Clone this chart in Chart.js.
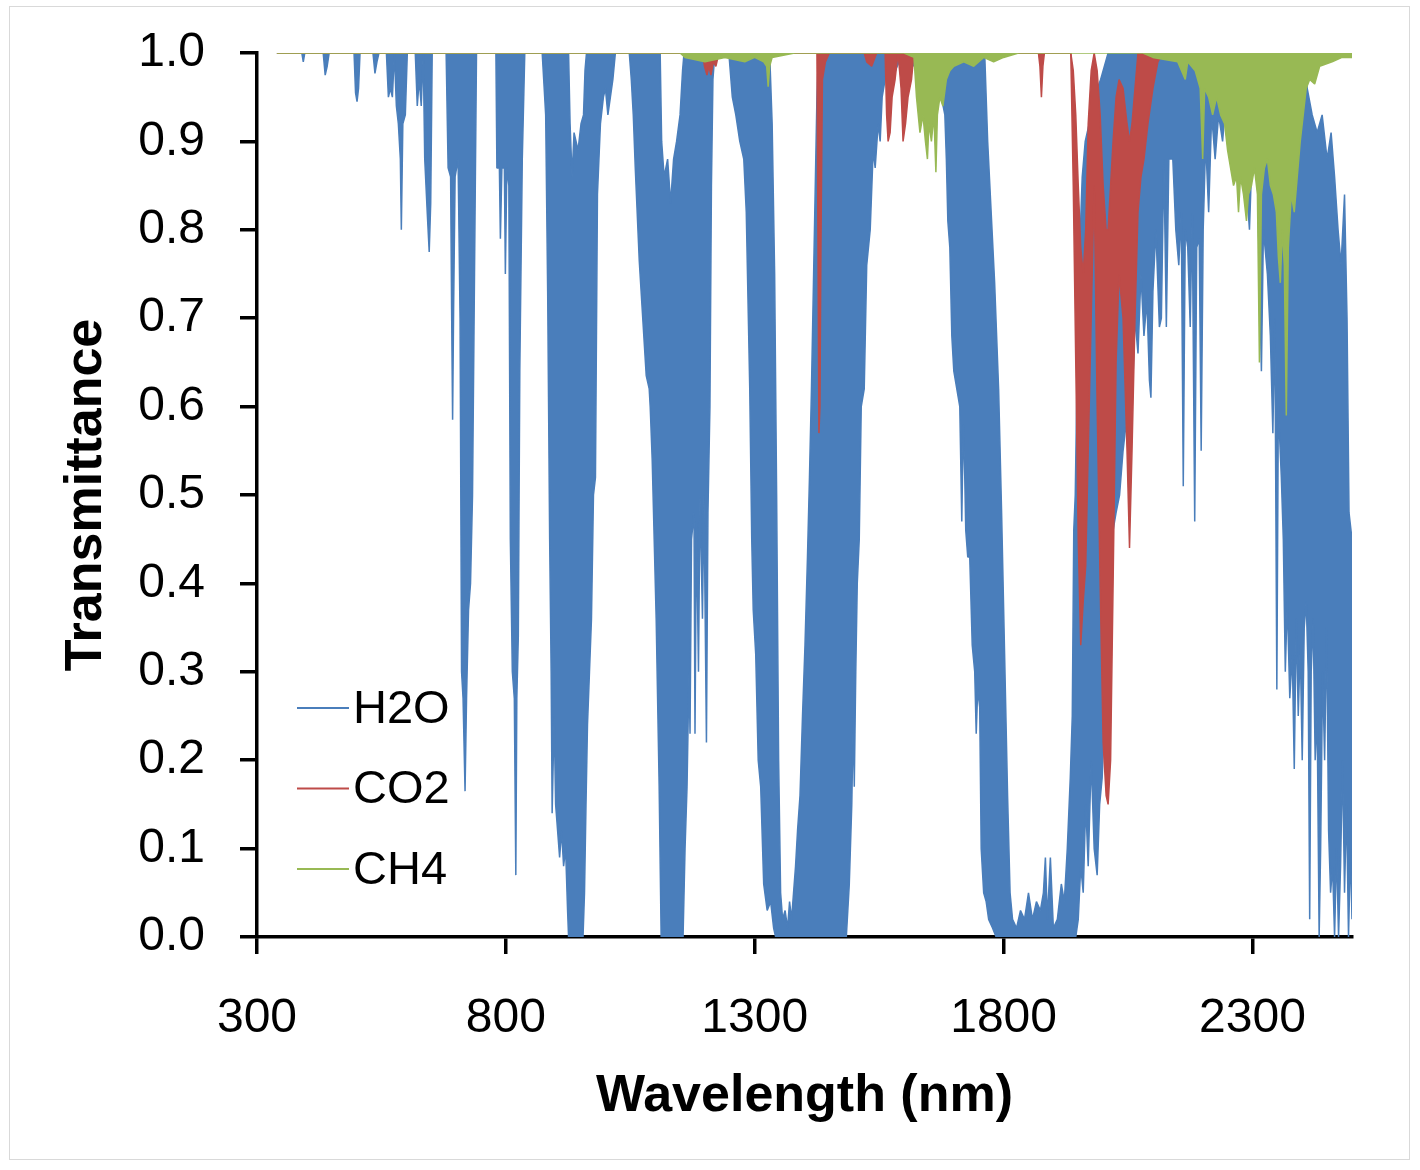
<!DOCTYPE html>
<html lang="en">
<head>
  <meta charset="UTF-8">
  <title>Transmittance of H2O, CO2 and CH4</title>
  <script src="https://cdn.jsdelivr.net/npm/chart.js"></script>
  <style>
    html, body { margin: 0; padding: 0; background: #fff; }
    #wrap { position: relative; width: 1420px; height: 1170px; }
    #frame { position: absolute; left: 9px; top: 6px; width: 1401px; height: 1154px;
             border: 1px solid #d9d9d9; box-sizing: border-box; pointer-events: none; }
    #chart { position: absolute; left: 0; top: 0; }
  </style>
</head>
<body>
  <div id="wrap">
    <canvas id="chart" width="1420" height="1170"></canvas>
    <div id="frame"></div>
  </div>

  <script>
    // wavelength (nm), transmittance pairs
    // H2O is drawn as a band between its upper and lower envelope
    const h2oLower = [
      [340,1],[390,1],[393,0.99],[396,1],[433,1],[437,0.975],[441,0.985],[445,1],
      [495,1],[498,0.955],[501,0.945],[504,0.96],[507,1],[533,1],[537,0.977],[541,0.99],[545,1],
      [560,1],[564,0.95],[568,0.96],[572,0.95],[576,1],[580,0.94],[584,0.92],[588,0.88],[590,0.80],
      [593,0.92],[598,0.93],[602,1],[618,1],[622,0.94],[626,0.97],[630,0.94],[634,1],[637,0.88],
      [642,0.82],[646,0.775],[649,0.83],[652,1],[680,1],[684,0.87],[689,0.86],[691,0.71],[693,0.585],
      [695,0.71],[698,0.86],[704,0.88],[708,0.70],[711,0.30],[714,0.27],[718,0.165],[721,0.27],
      [725,0.37],[729,0.40],[733,0.50],[737,0.75],[741,1],[780,1],[782,0.87],[787,0.87],[789,0.79],
      [792,0.87],[797,0.87],[799,0.75],[802,0.87],[806,0.85],[809,0.45],[813,0.30],[817,0.27],
      [820,0.07],[822,0.27],[825,0.34],[828,0.64],[833,0.88],[838,1],[873,1],[876,0.97],[880,0.93],
      [884,0.73],[888,0.45],[891,0.30],[893,0.14],[897,0.25],[900,0.15],[904,0.12],[908,0.09],
      [912,0.12],[916,0.08],[920,0.10],[924,0.03],[926,0],[955,0],[958,0.05],[961,0.15],[964,0.24],
      [968,0.30],[972,0.36],[976,0.50],[980,0.52],[984,0.84],[990,0.92],[996,0.95],[1000,0.96],
      [1005,0.93],[1010,0.95],[1015,0.97],[1020,1],[1048,1],[1052,0.97],[1056,0.93],[1060,0.87],
      [1068,0.765],[1075,0.70],[1082,0.635],[1088,0.62],[1090,0.60],[1094,0.54],[1102,0.36],
      [1108,0.17],[1112,0],[1156,0],[1160,0.10],[1164,0.17],[1168,0.30],[1170,0.23],[1173,0.45],
      [1178,0.48],[1180,0.23],[1183,0.47],[1187,0.30],[1190,0.50],[1195,0.36],[1198,0.50],
      [1203,0.22],[1206,0.48],[1210,0.60],[1213,0.85],[1216,0.97],[1220,1],[1248,1],[1255,0.95],
      [1262,0.93],[1270,0.90],[1278,0.88],[1283,0.82],[1290,0.62],[1294,0.45],[1297,0.37],
      [1302,0.32],[1307,0.20],[1312,0.17],[1318,0.06],[1325,0.03],[1332,0.04],[1338,0.01],[1342,0],
      [1484,0],[1490,0.06],[1495,0.15],[1498,0.25],[1500,0.17],[1503,0.30],[1506,0.40],[1510,0.45],
      [1514,0.60],[1520,0.62],[1525,0.76],[1532,0.80],[1538,0.89],[1542,0.87],[1548,0.92],
      [1552,0.90],[1556,0.95],[1565,0.98],[1575,0.97],[1590,0.99],[1610,0.98],[1625,0.99],
      [1645,0.99],[1652,0.95],[1656,0.97],[1662,0.93],[1668,0.97],[1675,0.95],[1682,0.93],
      [1685,0.88],[1688,0.81],[1692,0.78],[1696,0.68],[1700,0.64],[1706,0.62],[1712,0.60],
      [1716,0.47],[1719,0.58],[1722,0.52],[1724,0.46],[1728,0.43],[1732,0.43],[1737,0.33],
      [1742,0.30],[1745,0.23],[1748,0.28],[1752,0.26],[1755,0.10],[1760,0.05],[1765,0.04],
      [1770,0.02],[1778,0.01],[1785,0],[1936,0],[1945,0],[1950,0.02],[1955,0.08],[1960,0.05],
      [1965,0.15],[1970,0.08],[1976,0.20],[1982,0.10],[1988,0.07],[1993,0.15],[1998,0.18],
      [2003,0.25],[2008,0.35],[2013,0.42],[2020,0.46],[2026,0.48],[2033,0.50],[2040,0.55],
      [2046,0.58],[2052,0.62],[2058,0.60],[2064,0.70],[2070,0.66],[2076,0.75],[2082,0.68],
      [2088,0.72],[2093,0.63],[2096,0.61],[2100,0.73],[2106,0.80],[2113,0.69],[2117,0.70],
      [2122,0.88],[2127,0.69],[2132,0.88],[2140,0.88],[2146,0.80],[2152,0.76],[2157,0.82],
      [2161,0.51],[2165,0.80],[2170,0.78],[2175,0.69],[2179,0.82],[2184,0.47],[2188,0.78],
      [2193,0.79],[2197,0.55],[2201,0.80],[2206,0.90],[2212,0.82],[2218,0.93],[2225,0.88],
      [2232,0.93],[2240,0.90],[2247,0.95],[2255,0.92],[2262,0.88],[2270,0.86],[2280,0.92],
      [2288,0.85],[2294,0.80],[2300,0.90],[2310,0.86],[2318,0.64],[2322,0.80],[2330,0.75],
      [2336,0.68],[2341,0.57],[2345,0.70],[2349,0.28],[2352,0.60],[2358,0.52],[2362,0.45],
      [2366,0.30],[2370,0.38],[2375,0.27],[2380,0.32],[2384,0.19],[2388,0.36],[2392,0.25],
      [2396,0.33],[2400,0.20],[2404,0.35],[2408,0.38],[2412,0.30],[2415,0.02],[2418,0.30],
      [2422,0.36],[2426,0.20],[2430,0.25],[2434,0],[2437,0.10],[2441,0.30],[2445,0.20],
      [2449,0.35],[2453,0.12],[2457,0.05],[2461,0.08],[2465,0],[2469,0.10],[2473,0],[2477,0.08],
      [2481,0.20],[2485,0.05],[2489,0.15],[2493,0],[2497,0.10],[2500,0.02]
    ];
    const h2oUpper = [
      [340,1],[926,1],[929,0.92],[933,0.86],[937,0.91],[945,0.89],[951,0.92],[956,0.93],[959,0.98],
      [962,1],[1110,1],[1113,0.90],[1118,0.86],[1125,0.88],[1131,0.83],[1137,0.88],[1143,0.90],
      [1150,0.93],[1155,0.98],[1158,1],[1330,1],[1335,0.92],[1340,0.75],[1344,0.50],[1348,0.20],
      [1352,0.05],[1356,0.02],[1361,0.03],[1366,0.01],[1370,0.04],[1374,0.02],[1378,0.05],
      [1382,0.08],[1386,0.12],[1391,0.16],[1396,0.25],[1401,0.33],[1406,0.43],[1410,0.52],
      [1414,0.62],[1418,0.74],[1422,0.86],[1425,0.95],[1428,1],[1762,1],[1768,0.90],[1775,0.82],
      [1782,0.74],[1790,0.62],[1796,0.48],[1802,0.32],[1808,0.16],[1813,0.05],[1818,0.02],
      [1826,0.01],[1834,0.03],[1842,0.02],[1850,0.05],[1858,0.02],[1866,0.04],[1874,0.03],
      [1880,0.05],[1884,0.09],[1888,0.02],[1894,0.09],[1900,0.01],[1908,0.02],[1916,0.06],
      [1922,0.04],[1928,0.10],[1934,0.18],[1938,0.25],[1941,0.46],[1944,0.50],[1948,0.65],
      [1953,0.78],[1958,0.86],[1964,0.90],[1972,0.92],[1982,0.95],[1995,0.97],[2010,1],[2405,1],
      [2410,0.96],[2420,0.93],[2430,0.91],[2440,0.93],[2450,0.88],[2458,0.91],[2465,0.86],
      [2472,0.80],[2478,0.76],[2485,0.84],[2490,0.70],[2494,0.48],[2500,0.45]
    ];
    const co2Lower = [
      [340,1],[1195,1],[1199,0.985],[1204,0.975],[1208,0.985],[1212,0.975],[1217,0.99],[1222,0.985],
      [1228,1],[1425,1],[1427,0.80],[1429,0.57],[1431,0.60],[1433,0.78],[1436,0.97],[1442,0.99],
      [1450,1],[1520,1],[1525,0.99],[1535,0.985],[1545,1],[1562,1],[1565,0.93],[1568,0.90],
      [1572,0.91],[1576,0.95],[1582,0.97],[1588,1],[1594,0.96],[1598,0.90],[1603,0.92],[1608,0.95],
      [1615,0.97],[1620,1],[1870,1],[1873,0.985],[1876,0.95],[1879,0.985],[1882,1],[1935,1],
      [1940,0.85],[1945,0.65],[1950,0.45],[1955,0.33],[1960,0.38],[1965,0.42],[1970,0.55],
      [1976,0.70],[1982,0.85],[1988,0.60],[1994,0.40],[2000,0.22],[2006,0.16],[2010,0.15],
      [2015,0.20],[2020,0.40],[2026,0.65],[2032,0.75],[2040,0.70],[2048,0.55],[2053,0.44],
      [2058,0.55],[2064,0.70],[2070,0.82],[2076,0.86],[2082,0.88],[2090,0.92],[2100,0.96],
      [2110,0.99],[2120,1],[2500,1]
    ];
    const co2Upper = [
      [340,1],[1935,1],[1940,0.98],[1945,0.93],[1950,0.85],[1955,0.78],[1960,0.75],[1965,0.80],
      [1970,0.92],[1976,0.98],[1982,1],[1988,0.98],[1994,0.93],[2000,0.85],[2006,0.80],[2010,0.80],
      [2015,0.85],[2020,0.90],[2026,0.95],[2032,0.97],[2040,0.96],[2048,0.92],[2053,0.90],
      [2058,0.92],[2064,0.96],[2070,1],[2500,1]
    ];
    const ch4Lower = [
      [340,1],[1150,1],[1160,0.995],[1200,0.99],[1240,0.995],[1280,0.99],[1300,0.995],[1318,0.99],
      [1324,0.985],[1327,0.962],[1330,0.985],[1335,0.995],[1380,1],[1600,1],[1620,0.995],[1625,0.95],
      [1632,0.91],[1638,0.93],[1643,0.90],[1647,0.88],[1650,0.92],[1655,0.90],[1660,0.93],
      [1664,0.865],[1667,0.93],[1672,0.95],[1678,0.94],[1685,0.97],[1692,0.98],[1700,0.985],
      [1720,0.99],[1740,0.985],[1760,0.995],[1780,0.99],[1800,0.995],[1830,1],[2080,1],
      [2100,0.995],[2150,0.99],[2165,0.97],[2170,0.99],[2185,0.98],[2195,0.96],[2200,0.88],
      [2204,0.96],[2212,0.95],[2220,0.93],[2228,0.95],[2236,0.93],[2244,0.92],[2250,0.89],
      [2256,0.87],[2262,0.85],[2268,0.86],[2272,0.82],[2276,0.86],[2282,0.84],[2288,0.81],
      [2292,0.84],[2298,0.85],[2304,0.87],[2310,0.84],[2314,0.65],[2318,0.84],[2324,0.87],
      [2330,0.88],[2336,0.85],[2342,0.84],[2348,0.82],[2352,0.77],[2356,0.74],[2360,0.80],
      [2364,0.76],[2368,0.59],[2372,0.78],[2378,0.84],[2384,0.82],[2390,0.86],[2396,0.90],
      [2402,0.93],[2408,0.96],[2415,0.97],[2425,0.965],[2435,0.985],[2460,0.99],[2480,0.995],
      [2500,0.995]
    ];

    const xTicks = [300, 800, 1300, 1800, 2300];
    const yTicks = [0, 0.1, 0.2, 0.3, 0.4, 0.5, 0.6, 0.7, 0.8, 0.9, 1.0];
    const seriesNames = ['H2O', 'CO2', 'CH4'];

    const BLUE = '#4a7ebb';
    const RED = '#be4b48';
    const GREEN = '#98b954';
    const seriesColors = [BLUE, RED, GREEN];
    const FONT = '"Liberation Sans", Arial, sans-serif';

    const pts = arr => arr.map(p => ({ x: p[0], y: p[1] }));

    // legend sits inside the plot, lower left, like the original
    const insideLegend = {
      id: 'insideLegend',
      afterDraw(chart) {
        const ctx = chart.ctx;
        ctx.save();
        ctx.font = '47px ' + FONT;
        ctx.textBaseline = 'middle';
        ctx.fillStyle = '#000';
        seriesNames.forEach((name, i) => {
          const y = 708 + i * 80.5;
          ctx.strokeStyle = seriesColors[i];
          ctx.lineWidth = 2;
          ctx.beginPath();
          ctx.moveTo(297, y);
          ctx.lineTo(349, y);
          ctx.stroke();
          ctx.fillText(name, 353, y + 2);
        });
        ctx.restore();
      }
    };

    const line = (data, color, extra) => Object.assign({
      data: pts(data),
      borderColor: color,
      backgroundColor: color,
      borderWidth: 1.5,
      fill: false
    }, extra);

    new Chart(document.getElementById('chart'), {
      type: 'line',
      data: {
        datasets: [
          line(ch4Lower, GREEN, { label: 'CH4', fill: 'end', order: 0 }),
          line(co2Upper, RED, { label: 'CO2 upper', order: 1 }),
          line(co2Lower, RED, { label: 'CO2', fill: 1, order: 1 }),
          line(h2oUpper, BLUE, { label: 'H2O upper', order: 2 }),
          line(h2oLower, BLUE, { label: 'H2O', fill: 3, order: 2 })
        ]
      },
      options: {
        responsive: false,
        animation: false,
        events: [],
        layout: { padding: { left: 0, right: 68, top: 53, bottom: 0 } },
        elements: {
          point: { radius: 0 },
          line: { tension: 0, borderJoinStyle: 'bevel' }
        },
        plugins: {
          legend: { display: false },
          tooltip: { enabled: false }
        },
        scales: {
          x: {
            type: 'linear',
            min: 300,
            max: 2500,
            afterBuildTicks: s => { s.ticks = xTicks.map(v => ({ value: v })); },
            afterFit: s => { s.height = 233; s.paddingLeft = 0; s.paddingRight = 0; },
            grid: { drawOnChartArea: false, drawTicks: true, tickLength: 17, color: '#000', lineWidth: 3.5 },
            border: { display: true, color: '#000', width: 3.5 },
            ticks: {
              color: '#000',
              font: { family: FONT, size: 48 },
              padding: 36,
              maxRotation: 0,
              callback: v => String(v)
            },
            title: {
              display: true,
              text: 'Wavelength (nm)',
              color: '#000',
              font: { family: FONT, size: 52, weight: 'bold' },
              padding: { top: 0, bottom: 42 }
            }
          },
          y: {
            min: 0,
            max: 1,
            afterBuildTicks: s => { s.ticks = yTicks.map(v => ({ value: v })); },
            afterFit: s => { s.width = 257; s.paddingTop = 0; s.paddingBottom = 0; },
            grid: { drawOnChartArea: false, drawTicks: true, tickLength: 17, color: '#000', lineWidth: 3.5 },
            border: { display: true, color: '#000', width: 3.5 },
            ticks: {
              color: '#000',
              font: { family: FONT, size: 48 },
              padding: 35,
              callback: v => v.toFixed(1)
            },
            title: {
              display: true,
              text: 'Transmittance',
              color: '#000',
              font: { family: FONT, size: 52, weight: 'bold' },
              padding: { top: 55, bottom: 0 }
            }
          }
        }
      },
      plugins: [insideLegend]
    });
  </script>
</body>
</html>
